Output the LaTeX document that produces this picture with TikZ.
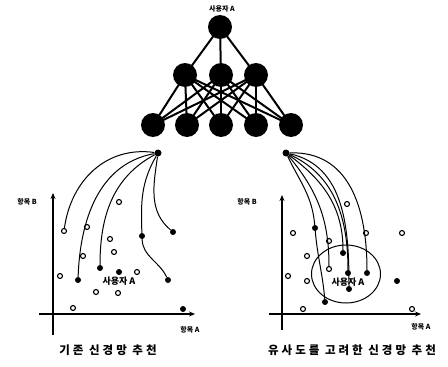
\documentclass[tikz,border=0pt]{standalone}
\usepackage{fontspec}
\setmainfont{Liberation Sans}
\newfontfamily\kr{Noto Sans CJK KR}
\usetikzlibrary{arrows.meta,backgrounds,shapes.geometric}
\begin{document}
\begin{tikzpicture}[x=1pt,y=-1pt,
  neuron/.style={circle,fill=black,minimum size=24pt,inner sep=0pt},
  link/.style={line width=2pt},
  odot/.style={circle,draw=black,line width=1.1pt,fill=white,minimum size=5pt,inner sep=0pt},
  fdot/.style={circle,fill=black,minimum size=6pt,inner sep=0pt},
  src/.style={circle,fill=black,minimum size=7pt,inner sep=0pt},
  flow/.style={line width=1pt},
  axis/.style={line width=1.4pt,-{Stealth[length=6pt,width=5pt]}},
  small/.style={font=\kr\fontsize{7}{8}\selectfont\bfseries},
  mid/.style={font=\kr\fontsize{9}{10}\selectfont\bfseries},
  caption/.style={font=\kr\fontsize{11.5}{12}\selectfont\bfseries\addfontfeature{LetterSpace=26}}]
\useasboundingbox (0,0) rectangle (448,367);

% ---- neural network ----
\node[small] (user) at (222,9) {사용자 A};
\node[neuron] (t) at (220,27) {};
\foreach \x [count=\i] in {185,221,256} \node[neuron] (m\i) at (\x,75) {};
\foreach \x [count=\i] in {153,187,221,256,291} \node[neuron] (b\i) at (\x,125) {};
\begin{scope}[on background layer]
  \foreach \i in {1,2,3} \draw[link] (t.center) -- (m\i.center);
  \foreach \i in {1,2,3} \foreach \j in {1,...,5} \draw[link] (m\i.center) -- (b\j.center);
\end{scope}

% ---- left panel: plain recommendation ----
\coordinate (ly0) at (53,335);
\coordinate (ly1) at (53,193);
\coordinate (lx0) at (39,314);
\coordinate (lx1) at (195,314);
\draw[axis] (ly0) -- (ly1);
\draw[axis] (lx0) -- (lx1);
\node[small] (lb) at (27,202) {항목 B};
\node[small] (la) at (190,330) {항목 A};
\node[mid] (lu) at (119,281) {사용자 A};

\foreach \p/\n in {{64,231}/o1,{87,227}/o2,{119,202}/o3,{110,239}/o4,{114,252}/o5,
                   {83,256}/o6,{60,276}/o7,{137,272}/o8,{118,293}/o9,{96,292}/o10,{73,308}/o11}
  \node[odot] (l\n) at (\p) {};
\foreach \p/\n in {{142,236}/f1,{173,232}/f2,{100,268}/f3,{78,280}/f4,{168,280}/f5,
                   {119,272}/f6,{183,309}/f7}
  \node[fdot] (l\n) at (\p) {};
\node[src] (ls) at (158,153) {};
\draw[flow] (ls) to[out=172,in=82,looseness=1.05] (lo1);
\draw[flow] (ls) to[out=190,in=88] (lf4);
\draw[flow] (ls) to[out=208,in=90] (lf3);
\draw[flow] (ls) to[out=240,in=92] (lf1) to[out=-88,in=115] (lf5);
\draw[flow] (ls) to[out=262,in=140] (lf2);

% ---- right panel: similarity-aware recommendation ----
\coordinate (ry0) at (282,330);
\coordinate (ry1) at (282,195);
\coordinate (rx0) at (269,314);
\coordinate (rx1) at (421,314);
\draw[axis] (ry0) -- (ry1);
\draw[axis] (rx0) -- (rx1);
\node[small] (rb) at (247,202) {항목 B};
\node[small] (ra) at (421,327) {항목 A};
\node[draw,line width=1pt,ellipse,minimum width=69pt,minimum height=58pt,inner sep=0pt] (zone) at (346,274) {};
\node[mid] (ru) at (348,282) {사용자 A};

\foreach \p/\n in {{293,233}/o1,{329,241}/o2,{366,233}/o3,{307,256}/o4,{329,269}/o5,
                   {288,276}/o6,{307,281}/o7,{347,204}/o8,{402,233}/o9,{303,309}/o10,{412,309}/o11}
  \node[odot] (r\n) at (\p) {};
\foreach \p/\n in {{315,228}/f1,{343,253}/f2,{348,273}/f3,{367,273}/f4,{349,289}/f5,
                   {325,302}/f6,{397,281}/f7}
  \node[fdot] (r\n) at (\p) {};
\node[src] (rs) at (286,153) {};
\draw[flow] (rs) to[out=2,in=90,looseness=1.1] (rf4);
\draw[flow] (rs) to[out=-12,in=90] (rf5);
\draw[flow] (rs) to[out=-24,in=90] (rf3);
\draw[flow] (rs) to[out=-36,in=90] (rf2);
\draw[flow] (rs) to[out=-50,in=90] (ro5);
\draw[flow] (rs) to[out=-64,in=95] (rf1) to[out=-85,in=95] (rf6);

% ---- captions ----
\node[caption] (c1) at (108,350) {기존 신경망 추천};
\node[caption] (c2) at (352,350) {유사도를 고려한 신경망 추천};
\end{tikzpicture}
\end{document}
